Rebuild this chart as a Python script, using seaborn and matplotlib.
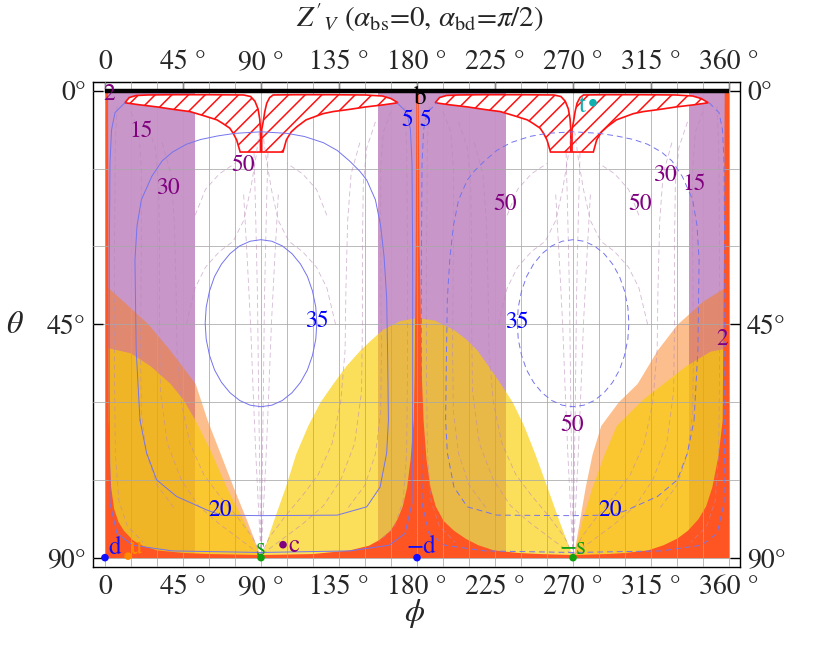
import numpy as np
import pandas as pd
import seaborn as sns
import matplotlib.pyplot as plt
from matplotlib.ticker import MultipleLocator

sns.set_style('white')
plt.rcParams['font.family'] = ['STIXGeneral', 'Liberation Serif', 'DejaVu Serif']
plt.rcParams['mathtext.fontset'] = 'stix'
plt.rcParams['hatch.linewidth'] = 1.1

# ---- shaded regions (phi, theta in degrees) ----
band_lo = [0, 157.5, 180, 337]
band_hi = [52, 180, 231.5, 360]

peach_l_phi = [0, 12, 25, 37.5, 52, 59, 66, 74, 82, 90]
peach_l_th = [37.4, 41, 45, 50, 56.4, 63.5, 69.5, 76.4, 83, 90]
peach_r_phi = [270, 277, 281, 286, 296, 307, 318.5, 330, 345, 360]
peach_r_th = [90, 76.4, 70, 64.5, 60, 56.4, 50, 45, 40.5, 37.4]

yel_phi = [0, 14.5, 26, 37.5, 45, 52, 61, 70, 80, 90, 97, 104, 110, 117, 124, 131.5, 139, 147,
           154, 160, 170, 180, 190, 201, 208, 214.6, 221, 228, 235, 241.5, 248, 255, 262,
           270, 275, 281, 288, 295, 310, 322, 335, 349, 360]
yel_th = [49.4, 50.5, 53, 56.4, 59.5, 63.5, 69.5, 76.4, 83, 90, 83, 76.4, 70, 64.5, 60, 56.4, 53, 50,
          47.8, 46, 44.3, 43.7, 44.2, 46, 47.8, 50, 53, 56.4, 60, 64.5, 70, 76.4, 83,
          90, 83, 76.4, 70, 64.5, 59.5, 56.4, 53, 50.2, 49.5]

red_phi = [0, 1.5, 1.7, 1.9, 2.5, 3.3, 5, 7.5, 10.6, 16, 22, 29.8, 45, 60, 90, 120, 141, 152,
           158, 164.5, 168.5, 171.5, 174, 176, 177.8, 178.3, 179, 179.3, 180.7, 181.2, 182.5,
           183.5, 185.2, 187.5, 190.5, 195, 201, 208, 215, 224, 238, 250, 270, 290, 300, 313,
           322, 330, 336, 342, 346.5, 350, 353.5, 356, 356.8, 357.2, 360]
red_th = [0, 0, 30, 63.5, 71, 76.4, 80.5, 83, 84.7, 86.6, 87.7, 88.5, 89, 89.2, 89.4, 89.2, 88.5, 87.6,
          86.5, 84.7, 82.5, 80, 76.4, 71, 63.5, 55, 30, 0, 0, 30, 55,
          63.5, 71, 76.4, 80, 82.8, 84.7, 86.3, 87.5, 88.5, 89, 89.2, 89.4, 89.2, 89, 88.5,
          87.5, 86.2, 84.7, 82.5, 80, 76.4, 70.5, 63.5, 30, 0, 0]

# hatched "tongues" hanging from theta=0 (two pieces each), second copy shifted
tongA_phi = [11.5, 14, 18, 25, 40, 60, 80, 84, 86.5, 88.3, 89.3, 89.7, 89.7, 78, 76, 74, 72, 68,
             64.6, 57, 49, 40, 30, 20, 11.5]
tongA_th = [2.3, 1.3, 0.9, 0.8, 0.75, 0.75, 0.8, 1.1, 2.0, 3.5, 5.5, 7.5, 11.8, 11.8, 9.5, 8.2, 7.2,
            6.3, 5.6, 4.8, 4.0, 3.6, 3.1, 2.7, 2.3]
tongB_phi = [90.4, 90.4, 91.3, 92.2, 93.3, 95, 97, 110, 130, 150, 160, 165, 169, 160.6, 150.6,
             140.6, 131.6, 125.8, 116, 110.8, 107.5, 105.6, 104.6, 102.7, 90.4]
tongB_th = [11.8, 7.5, 5.9, 4.0, 2.4, 1.3, 0.8, 0.75, 0.75, 0.8, 1.0, 1.5, 2.3, 2.7, 3.1,
            3.6, 4.0, 4.4, 5.6, 6.9, 7.9, 8.9, 9.5, 11.8, 11.8]
tong_shift = [0, 179]

# ---- contour lines, left half (phi 0..180); the right half is the mirror image ----
c5_phi = [11.5, 5.8, 3.8, 2.9, 2.5, 2.5, 2.9, 6.9, 16, 39, 90, 141, 164, 173.1, 177.1, 177.5,
          177.5, 177.1, 176.2, 174.2, 168.5]
c5_th = [2.3, 4.2, 7.5, 13.9, 32.6, 60, 79.5, 85.3, 87.6, 88.7, 89, 88.7, 87.6, 85.3, 79.5, 60,
         32.6, 13.9, 7.5, 4.2, 2.3]
c20_phi = [20.2, 18, 17.3, 18.5, 21, 27, 33, 39, 47, 55, 65, 75, 90, 105, 115, 126, 134, 141, 147,
           151, 156, 159, 161, 162.5, 163, 163.5, 162.5, 158.7, 151, 134, 90, 67, 58.7, 41.3,
           29.8, 24, 20.2]
c20_th = [63.5, 50, 32.6, 26, 21, 16.5, 13.5, 11.8, 10.3, 9.4, 8.7, 8.2, 7.9, 8.2, 8.8, 10, 11.5,
          13.5, 15.5, 17.2, 21, 26, 32, 40, 50, 63.5, 69.8, 76.4, 80.2, 81.8, 81.9, 81.8, 80.8,
          78.2, 75, 69.8, 63.5]
c35_phi = [122.2, 121.6, 119.7, 116.8, 112.8, 107.9, 102.3, 96.3, 90, 83.7, 77.7, 72.1, 67.2,
           63.2, 60.3, 58.4, 57.8, 58.4, 60.3, 63.2, 67.2, 72.1, 77.7, 83.7, 90, 96.3, 102.3,
           107.9, 112.8, 116.8, 119.7, 121.6, 122.2]
c35_th = [44.8, 47.9, 51.0, 53.8, 56.2, 58.2, 59.7, 60.6, 60.9, 60.6, 59.7, 58.2, 56.2,
          53.8, 51.0, 47.9, 44.8, 41.7, 38.6, 35.8, 33.4, 31.4, 29.9, 29.0, 28.7, 29.0, 29.9,
          31.4, 33.4, 35.8, 38.6, 41.7, 44.8]

# purple dashed contours, quarter (phi < 90); repeated by symmetry
dash_lines = [
    ([7, 6, 5.5, 5.5, 6, 8, 13, 22], [3, 10, 30, 55, 70, 79, 84, 87]),
    ([15, 19.5, 21, 21, 20.5, 21, 24, 30, 40], [4, 8, 15, 30, 50, 62, 70, 76, 80.5]),
    ([24, 29, 31, 31.5, 31.5, 32, 36, 44, 54, 66, 78, 90],
     [6, 11, 18, 30, 45, 58, 68, 75, 80, 83.5, 86.5, 89.5]),
    ([33, 38, 40, 41, 41.5, 44, 49, 57, 66, 76, 85, 90],
     [10, 16, 25, 38, 50, 60, 68, 74, 78, 82, 86, 89.5]),
    ([47, 52, 58, 66, 74, 80, 84, 87, 89], [45, 38, 34, 31, 29, 25, 19, 13, 8]),
    ([80, 82, 84, 85.5, 87, 88.5, 90], [20, 32, 45, 58, 70, 80, 89.5]),
    ([86, 87, 88, 88.5, 89.2, 90], [12, 25, 40, 55, 72, 89.5]),
    ([52, 58, 66, 75], [24, 19, 16, 14]),
]

# ---- marked points ----
pt_name = ['d', 'u', 's', 'c', '-d', '-s', 't']
pt_text = ['d', 'u', 's', 'c', '\u2212d', '\u2212s', 't']
pt_phi = [0, 13.3, 90, 102.7, 180, 270, 281.5]
pt_th = [90, 89.7, 90, 87.5, 90, 90, 2.3]
pt_colors = {'d': '#1010ff', 'u': '#ff8a00', 's': '#10a010', 'c': '#800080',
             '-d': '#1010ff', '-s': '#10a010', 't': '#10b0b0'}
pt_offset = [(7, 7), (6, 6), (0, 6), (8, -1), (3, 8), (0, 7), (-8, -2)]

# contour labels
lab_text = ['2', '15', '30', '50', '5', '5', '35', '35', '20', '20',
            '50', '50', '30', '15', '2', '50']
lab_phi = [2.5, 20.8, 36.3, 79.9, 174.2, 184.5, 122.3, 237.7, 66.3, 291.3,
           230.8, 308.7, 323, 339.8, 356, 269.4]
lab_th = [0.6, 7.9, 18.7, 14.4, 5.6, 5.6, 44.5, 44.7, 80.8, 80.8,
          21.8, 21.8, 16.2, 18.1, 48, 64.4]
lab_col = ['#800080', '#800080', '#800080', '#800080', '#0000ff', '#0000ff', '#0000ff', '#0000ff',
           '#0000ff', '#0000ff', '#800080', '#800080', '#800080', '#800080', '#800080', '#800080']

xticks = [0, 45, 90, 135, 180, 225, 270, 315, 360]
xticklabels = ['0'] + ['%d \u00b0' % t for t in xticks[1:]]
yticks = [0, 45, 90]
yticklabels = ['0\u00b0', '45\u00b0', '90\u00b0']

fig = plt.figure(figsize=(8.34, 6.5), dpi=100)
ax = fig.add_axes([93 / 834, 1 - 567 / 650, (740 - 93) / 834, (567 - 82) / 650])
ax.set_xlim(-6.9, 366.3)
ax.set_ylim(91.8, -1.7)

top, bottom = 0, 90
for lo, hi in zip(band_lo, band_hi):
    ax.fill_between([lo, hi], top, bottom, color='#c896c8', lw=0, zorder=1)
ax.fill_between(peach_l_phi, peach_l_th, bottom, color='#f87e1a', alpha=0.5, lw=0, zorder=1.2)
ax.fill_between(peach_r_phi, peach_r_th, bottom, color='#f87e1a', alpha=0.5, lw=0, zorder=1.2)
ax.fill_between(yel_phi, yel_th, bottom, color='#facd00', alpha=0.65, lw=0, zorder=1.4)
ax.fill_between(red_phi, red_th, bottom, color='#ff5522', lw=0, zorder=1.6)

# grid every 15 degrees
ax.xaxis.set_minor_locator(MultipleLocator(15))
ax.yaxis.set_minor_locator(MultipleLocator(15))
ax.set_axisbelow(False)
ax.grid(which='both', color='#a8a8a8', lw=0.7, alpha=0.8)

for sh in tong_shift:
    for tp, tt in [(tongA_phi, tongA_th), (tongB_phi, tongB_th)]:
        ax.fill(np.array(tp) + sh, tt, facecolor='white', edgecolor='#ff1010', hatch='//',
                lw=1.2, zorder=3)

# blue contours: solid on the left half, dashed on the mirrored right half
for cp, ct in [(c5_phi, c5_th), (c20_phi, c20_th), (c35_phi, c35_th)]:
    ax.plot(cp, ct, color='#7474ee', lw=0.7, zorder=3.5)
    ax.plot(360 - np.array(cp), ct, color='#7474ee', lw=0.7, ls=(0, (6, 4)), zorder=3.5)

for dp, dt in dash_lines:
    dp = np.array(dp)
    for xs in [dp, 180 - dp, 180 + dp, 360 - dp]:
        ax.plot(xs, dt, color='#b889b8', lw=0.6, ls=(0, (6, 4)), alpha=0.6, zorder=3.4)

ax.hlines(top, band_lo[0], band_hi[-1], color='black', lw=3.2, zorder=4)

pts = pd.DataFrame({'phi': pt_phi, 'theta': pt_th, 'name': pt_name})
sns.scatterplot(data=pts, x='phi', y='theta', hue='name', palette=pt_colors, s=30,
                edgecolor='none', legend=False, ax=ax, zorder=6, clip_on=False)
for name, txt, p, t, off in zip(pt_name, pt_text, pt_phi, pt_th, pt_offset):
    ax.annotate(txt, (p, t), xytext=off, textcoords='offset points', ha='center', va='center',
                color=pt_colors[name], fontsize=18, zorder=7)
ax.text(182.0, 1.4, 'b', color='black', fontsize=18, ha='center', va='center', zorder=7)

for txt, p, t, c in zip(lab_text, lab_phi, lab_th, lab_col):
    ax.text(p, t, txt, color=c, fontsize=17, ha='center', va='center', zorder=5)

ax.set_xlabel('')
ax.set_ylabel('')
ax.set_xticks(xticks)
ax.set_xticklabels(xticklabels)
ax.set_yticks(yticks)
ax.set_yticklabels(yticklabels)
ax.tick_params(which='major', direction='in', length=7, width=1, labelsize=20, color='black')
ax.tick_params(which='minor', length=0)
ax.tick_params(axis='x', pad=6)
ax.tick_params(axis='y', pad=5, left=True, right=True, labelleft=True, labelright=True)

secx = ax.secondary_xaxis('top')
secx.set_xticks(xticks)
secx.set_xticklabels(xticklabels)
secx.tick_params(direction='in', length=7, width=1, labelsize=20, pad=5)

for s in ax.spines.values():
    s.set_visible(True)
    s.set_color('black')
    s.set_linewidth(1.0)

fig.text(420 / 834, 1 - 18 / 650,
         r"$Z'_V$ ($\alpha_{\mathrm{bs}}$=0, $\alpha_{\mathrm{bd}}$=$\pi$/2)",
         ha='center', va='center', fontsize=21)
fig.text(415 / 834, 1 - 614 / 650, r'$\phi$', ha='center', va='center', fontsize=23)
fig.text(15 / 834, 1 - 325 / 650, r'$\theta$', ha='center', va='center', fontsize=23)

fig.savefig('out.png', dpi=100)
